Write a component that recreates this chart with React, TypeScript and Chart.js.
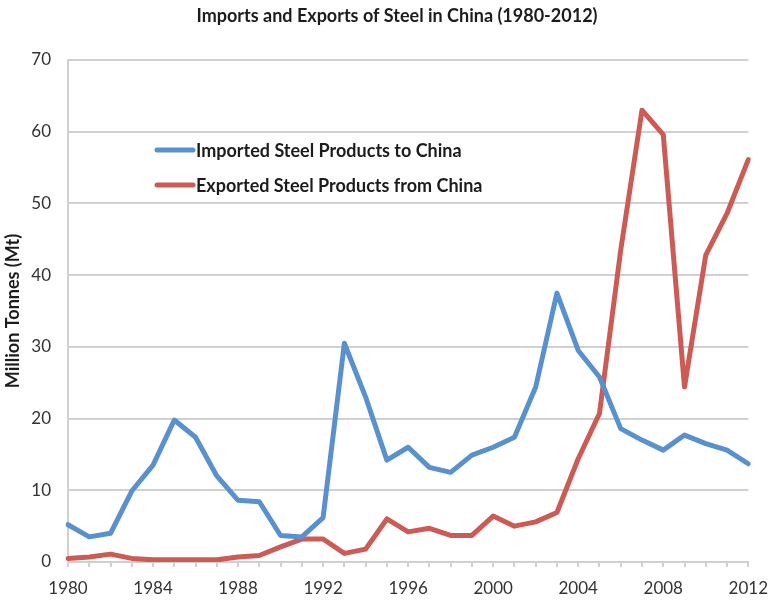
import React, { useEffect, useRef } from "react";
import { Chart, registerables } from "chart.js";

Chart.register(...registerables);

const years = [
  "1980", "1981", "1982", "1983", "1984", "1985", "1986", "1987", "1988", "1989",
  "1990", "1991", "1992", "1993", "1994", "1995", "1996", "1997", "1998", "1999",
  "2000", "2001", "2002", "2003", "2004", "2005", "2006", "2007", "2008", "2009",
  "2010", "2011", "2012",
];

const importedSteel = [
  5.2, 3.5, 4.0, 9.9, 13.5, 19.8, 17.4, 12.0, 8.6, 8.4,
  3.7, 3.5, 6.2, 30.5, 23.0, 14.2, 16.0, 13.2, 12.5, 14.9,
  16.0, 17.4, 24.4, 37.5, 29.5, 25.8, 18.6, 17.0, 15.6, 17.7,
  16.5, 15.6, 13.7,
];

const exportedSteel = [
  0.5, 0.7, 1.1, 0.5, 0.3, 0.3, 0.3, 0.3, 0.7, 0.9,
  2.1, 3.2, 3.2, 1.2, 1.8, 6.0, 4.2, 4.7, 3.7, 3.7,
  6.4, 5.0, 5.6, 6.9, 14.4, 20.7, 43.5, 63.0, 59.6, 24.4,
  42.8, 48.6, 56.1,
];

const seriesNames = ["Imported Steel Products to China", "Exported Steel Products from China"];
const seriesColors = ["#5891CD", "#CD5B55"];
const chartTitle = "Imports and Exports of Steel in China (1980-2012)";
const yAxisTitle = "Million Tonnes (Mt)";
const yMin = 0;
const yMax = 70;
const yStep = 10;
const labelEvery = 4;

const FONT = "Lato, 'Open Sans', sans-serif";
const GRID = "#d0d0d0";
const TEXT = "#1c1c1c";
const TICK_TEXT = "#333333";

const titleDrawer = {
  id: "titleDrawer",
  afterDraw(chart: any) {
    const { ctx, chartArea } = chart;
    ctx.save();
    ctx.font = `bold 18px ${FONT}`;
    ctx.fillStyle = TEXT;
    ctx.textAlign = "center";
    ctx.textBaseline = "middle";
    ctx.fillText(chartTitle, chartArea.left + 329, 16);
    ctx.restore();
  },
};

const insideLegend = {
  id: "insideLegend",
  afterDatasetsDraw(chart: any) {
    const { ctx, chartArea } = chart;
    const lineX0 = chartArea.left + 89;
    const lineX1 = lineX0 + 36;
    const textX = lineX1 + 3;
    const firstY = chartArea.top + 90;
    const rowGap = 35;
    ctx.save();
    ctx.font = `bold 18px ${FONT}`;
    ctx.textBaseline = "middle";
    ctx.textAlign = "left";
    chart.data.datasets.forEach((ds: any, i: number) => {
      const y = firstY + i * rowGap;
      ctx.strokeStyle = ds.borderColor;
      ctx.lineWidth = 5;
      ctx.lineCap = "round";
      ctx.beginPath();
      ctx.moveTo(lineX0, y);
      ctx.lineTo(lineX1, y);
      ctx.stroke();
      ctx.fillStyle = TEXT;
      ctx.fillText(ds.label, textX, y + 1);
    });
    ctx.restore();
  },
};

export default function App() {
  const canvasRef = useRef<HTMLCanvasElement | null>(null);

  useEffect(() => {
    if (!canvasRef.current) return;
    const chart = new Chart(canvasRef.current, {
      type: "line",
      data: {
        labels: years,
        datasets: [
          {
            label: seriesNames[0],
            data: importedSteel,
            borderColor: seriesColors[0],
            backgroundColor: seriesColors[0],
            borderWidth: 5,
            pointRadius: 0,
            tension: 0,
            borderJoinStyle: "round",
            borderCapStyle: "round",
          },
          {
            label: seriesNames[1],
            data: exportedSteel,
            borderColor: seriesColors[1],
            backgroundColor: seriesColors[1],
            borderWidth: 5,
            pointRadius: 0,
            tension: 0,
            borderJoinStyle: "round",
            borderCapStyle: "round",
          },
        ],
      },
      options: {
        responsive: false,
        animation: false,
        devicePixelRatio: 1,
        layout: { padding: { left: 0, right: 21, top: 60, bottom: 0 } },
        plugins: {
          legend: { display: false },
          tooltip: { enabled: false },
          title: { display: false },
        },
        scales: {
          x: {
            type: "category",
            offset: false,
            grid: {
              display: true,
              drawOnChartArea: false,
              drawTicks: true,
              tickLength: 5,
              color: GRID,
              lineWidth: 2,
            },
            border: { display: true, color: GRID, width: 2 },
            ticks: {
              autoSkip: false,
              maxRotation: 0,
              minRotation: 0,
              padding: 11,
              color: TICK_TEXT,
              font: { family: FONT, size: 17 },
              callback: (_v: any, i: number) => (i % labelEvery === 0 ? years[i] : ""),
            },
            afterFit: (scale: any) => {
              scale.height = 39;
            },
          },
          y: {
            min: yMin,
            max: yMax,
            grid: { color: GRID, lineWidth: 2, drawTicks: false },
            border: { display: true, color: GRID, width: 2 },
            ticks: {
              stepSize: yStep,
              padding: 17,
              color: TICK_TEXT,
              font: { family: FONT, size: 17 },
            },
            title: {
              display: true,
              text: yAxisTitle,
              color: TEXT,
              font: { family: FONT, size: 18, weight: "bold" },
              padding: { top: 2, bottom: 0 },
            },
            afterFit: (scale: any) => {
              scale.width = 68;
            },
          },
        },
      },
      plugins: [insideLegend, titleDrawer],
    });
    return () => chart.destroy();
  }, []);

  return (
    <div style={{ position: "fixed", left: 0, top: 0, width: 779, height: 601, background: "#ffffff" }}>
      <canvas ref={canvasRef} width={779} height={601} style={{ display: "block" }} />
    </div>
  );
}
